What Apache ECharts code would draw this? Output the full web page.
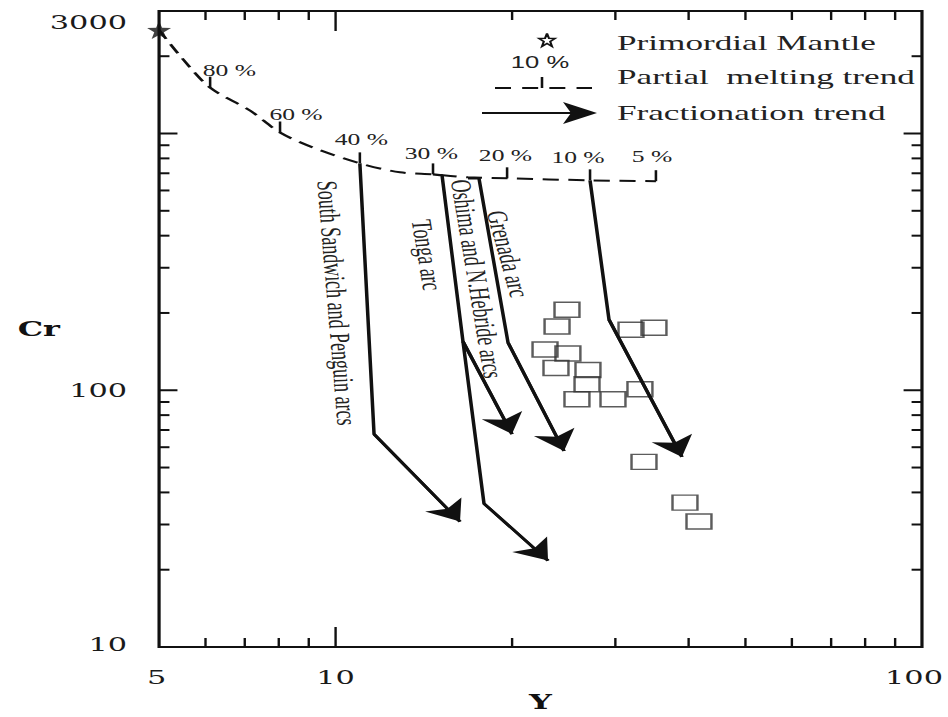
<!DOCTYPE html>
<html>
<head>
<meta charset="utf-8">
<script src="https://cdn.jsdelivr.net/npm/echarts@6/dist/echarts.min.js"></script>
<style>
  html, body { margin: 0; padding: 0; background: #fff; overflow: hidden; }
  /* the original figure is stretched horizontally, so draw narrow and stretch */
  #main { width: 593px; height: 717px; transform: scaleX(1.5987); transform-origin: 0 0; }
</style>
</head>
<body>
<div id="main"></div>
<script>
// axes (both log10)
const xRange = [5, 100];
const yRange = [10, 3000];
const xLabels = [5, 10, 100];
const yLabels = [10, 100, 3000];
const xTicksMajor = [10];
const xTicksMinor = [6, 7, 8, 9, 20, 30, 40, 50, 60, 70, 80, 90];
const yTicksMajor = [100, 1000];
const yTicksMinor = [20, 30, 40, 50, 60, 70, 80, 90, 200, 300, 400, 500, 600, 700, 800, 900, 2000];

// primordial mantle
const mantleY = [5];
const mantleCr = [2530];

// partial melting trend (dashed)
const meltY = [5, 5.43, 6.11, 7.15, 8.04, 9.15, 11.0, 12.88, 14.66, 16.82, 19.61, 27.16, 35.18];
const meltCr = [2530, 2006, 1508, 1228, 1009, 882, 765, 706, 693, 675, 669, 657, 652];
const meltTickNames = ['80 %', '60 %', '40 %', '30 %', '20 %', '10 %', '5 %'];
const meltTickY = [6.11, 8.04, 11.0, 14.66, 19.61, 27.16, 35.18];
const meltTickCr = [1508, 1009, 765, 693, 669, 657, 652];

// fractionation trends
const sspY = [11.0, 11.63, 16.30];
const sspCr = [765, 67.5, 30.8];
const tongaY = [14.66, 15.19, 16.49, 17.91, 23.03];
const tongaCr = [693, 687, 155, 36.2, 21.7];
const oshimaY = [16.49, 19.99];
const oshimaCr = [155, 67.5];
const grenadaY = [16.82, 17.56, 19.68, 24.52];
const grenadaCr = [669, 669, 153.5, 58];
const trend10Y = [27.16, 29.26, 38.96];
const trend10Cr = [657, 188.4, 55];

// samples
const sampleY = [24.81, 23.86, 22.76, 24.90, 23.76, 26.94, 26.84, 25.80, 29.72, 33.04, 31.90, 34.91, 33.57, 39.43, 41.66];
const sampleCr = [206, 177, 144, 139, 122, 120, 105.5, 92.3, 92.3, 101, 172, 175, 52.6, 36.5, 30.8];

// label nudges (px, unstretched)
const meltTickShift = [[12, -17], [10, -18], [1, -24], [-1, -21], [-1, -23], [-7.5, -23], [-2.5, -24]];
const xLabelNudge = [-1.5, 0, -5];
const yLabelNudge = [-3, 0, 11];

const S = 1.5987; // horizontal stretch
const ink = '#111';
const serif = 'Liberation Serif';
const starPts = [[50, 0], [61.76, 33.82], [97.55, 34.55], [69.02, 56.18], [79.39, 90.45], [50, 70], [20.61, 90.45], [30.98, 56.18], [2.45, 34.55], [38.24, 33.82]];
const starPath = 'path://M' + starPts.map(p => p.join(' ')).join(' L') + ' Z';

function pairs(xs, ys) {
  return xs.map((x, i) => [x, ys[i]]);
}

const trendPaths = [
  pairs(sspY, sspCr),
  pairs(tongaY, tongaCr),
  pairs(oshimaY, oshimaCr),
  pairs(grenadaY, grenadaCr),
  pairs(trend10Y, trend10Cr)
];

let myChart = echarts.init(document.getElementById('main'), null, { renderer: 'svg' });

let series = [];

// trend shafts
trendPaths.forEach(p => {
  series.push({
    type: 'line',
    data: p,
    symbol: 'none',
    lineStyle: { color: ink, width: 2.2 },
    z: 3,
    silent: true
  });
});

// arrow heads on last segment
series.push({
  type: 'lines',
  coordinateSystem: 'cartesian2d',
  data: trendPaths.map(p => ({ coords: p.slice(-2) })),
  symbol: ['none', 'arrow'],
  symbolSize: 20,
  lineStyle: { color: ink, width: 2.2, opacity: 1 },
  z: 4,
  silent: true
});

// melting curve
series.push({
  type: 'line',
  data: pairs(meltY, meltCr),
  symbol: 'none',
  smooth: 0.3,
  lineStyle: { color: ink, width: 2, type: [10, 6] },
  z: 3,
  silent: true
});

// % marks on the melting curve
series.push({
  type: 'custom',
  data: pairs(meltTickY, meltTickCr),
  z: 5,
  silent: true,
  renderItem: function (params, api) {
    const p = api.coord([api.value(0), api.value(1)]);
    const sh = meltTickShift[params.dataIndex];
    return {
      type: 'group',
      children: [
        { type: 'line', shape: { x1: p[0], y1: p[1], x2: p[0], y2: p[1] - 11 }, style: { stroke: ink, lineWidth: 1.6 } },
        { type: 'text', x: p[0] + sh[0], y: p[1] + sh[1],
          style: { text: meltTickNames[params.dataIndex], fill: '#222', fontSize: 16, fontFamily: serif, align: 'center', verticalAlign: 'middle' } }
      ]
    };
  }
});

// samples
series.push({
  type: 'scatter',
  data: pairs(sampleY, sampleCr),
  symbol: 'rect',
  symbolSize: [15.6, 15],
  itemStyle: { color: 'rgba(0,0,0,0)', borderColor: '#333', borderWidth: 1.5 },
  z: 2,
  clip: false,
  silent: true
});

// primordial mantle star
series.push({
  type: 'scatter',
  data: pairs(mantleY, mantleCr),
  symbol: starPath,
  symbolSize: [15, 18],
  itemStyle: { color: ink },
  z: 6,
  clip: false,
  silent: true
});

// axis ticks, inward on all four sides
series.push({
  type: 'custom',
  data: xTicksMajor.map(v => [v, yRange[0], 20]).concat(xTicksMinor.map(v => [v, yRange[0], 9])),
  z: 5,
  silent: true,
  renderItem: function (params, api) {
    const v = api.value(0), len = api.value(2);
    const b = api.coord([v, yRange[0]]);
    const t = api.coord([v, yRange[1]]);
    return {
      type: 'group',
      children: [
        { type: 'line', shape: { x1: b[0], y1: b[1], x2: b[0], y2: b[1] - len }, style: { stroke: ink, lineWidth: 1.5 } },
        { type: 'line', shape: { x1: t[0], y1: t[1], x2: t[0], y2: t[1] + len }, style: { stroke: ink, lineWidth: 1.5 } }
      ]
    };
  }
});
series.push({
  type: 'custom',
  data: yTicksMajor.map(v => [xRange[0], v, 11.5]).concat(yTicksMinor.map(v => [xRange[0], v, 6.5])),
  z: 5,
  silent: true,
  renderItem: function (params, api) {
    const v = api.value(1), len = api.value(2);
    const l = api.coord([xRange[0], v]);
    const r = api.coord([xRange[1], v]);
    return {
      type: 'group',
      children: [
        { type: 'line', shape: { x1: l[0], y1: l[1], x2: l[0] + len, y2: l[1] }, style: { stroke: ink, lineWidth: 2 } },
        { type: 'line', shape: { x1: r[0], y1: r[1], x2: r[0] - len, y2: r[1] }, style: { stroke: ink, lineWidth: 2 } }
      ]
    };
  }
});

// tick labels
series.push({
  type: 'custom',
  data: xLabels.map(v => [v, yRange[0]]),
  silent: true,
  renderItem: function (params, api) {
    const p = api.coord([api.value(0), yRange[0]]);
    return { type: 'text', x: p[0] + xLabelNudge[params.dataIndex], y: p[1] + 21,
      style: { text: String(xLabels[params.dataIndex]), fill: '#1a1a1a', fontSize: 19, fontFamily: 'DejaVu Serif', align: 'center', verticalAlign: 'top' } };
  }
});
series.push({
  type: 'custom',
  data: yLabels.map(v => [xRange[0], v]),
  silent: true,
  renderItem: function (params, api) {
    const p = api.coord([xRange[0], api.value(1)]);
    return { type: 'text', x: p[0] - 20, y: p[1] + yLabelNudge[params.dataIndex],
      style: { text: String(yLabels[params.dataIndex]), fill: '#1a1a1a', fontSize: 19, fontFamily: 'DejaVu Serif', align: 'right', verticalAlign: 'middle' } };
  }
});

function legendText(x, y, text) {
  return { type: 'text', x: x / S, y: y, style: { text: text, fill: '#222', fontSize: 22, fontFamily: serif, align: 'left', verticalAlign: 'middle' } };
}
function arcText(x, y, deg, text) {
  return { type: 'text', x: x / S, y: y, rotation: deg * Math.PI / 180,
    style: { text: text, fill: '#222', fontSize: 18, fontFamily: serif, align: 'center', verticalAlign: 'middle' } };
}
// hollow legend star, centred on (cx, cy), size w x h
function legendStar(cx, cy, w, h) {
  const pts = starPts.map(p => [cx + (p[0] / 100 - 0.5) * w, cy + (p[1] / 90.45 - 0.5) * h]);
  return { type: 'polygon', shape: { points: pts }, style: { fill: 'none', stroke: ink, lineWidth: 1.4 } };
}

var option = {
  animation: false,
  grid: {
    left: 99.5, right: 16.3, top: 11, bottom: 68,
    show: true, borderColor: ink, borderWidth: 2
  },
  xAxis: {
    type: 'log', logBase: 10, min: xRange[0], max: xRange[1],
    name: 'Y', nameLocation: 'middle', nameGap: 45,
    nameTextStyle: { fontFamily: 'DejaVu Serif', fontWeight: 'bold', fontSize: 20, color: ink },
    axisLine: { show: false }, axisTick: { show: false }, axisLabel: { show: false }, splitLine: { show: false }
  },
  yAxis: {
    type: 'log', logBase: 10, min: yRange[0], max: yRange[1],
    name: 'Cr', nameLocation: 'middle', nameRotate: 0, nameGap: 62,
    nameTextStyle: { fontFamily: 'DejaVu Serif', fontWeight: 'bold', fontSize: 20, color: ink, padding: [0, 0, 12, 0] },
    axisLine: { show: false }, axisTick: { show: false }, axisLabel: { show: false }, splitLine: { show: false }
  },
  graphic: [
    // legend
    legendStar(547 / S, 40, 10.6, 13),
    legendText(617, 43, 'Primordial Mantle'),
    { type: 'text', x: 540 / S, y: 63, style: { text: '10 %', fill: '#222', fontSize: 16, fontFamily: 'Liberation Sans', align: 'center', verticalAlign: 'middle' } },
    { type: 'line', shape: { x1: 495 / S, y1: 88, x2: 592 / S, y2: 88 }, style: { stroke: ink, lineWidth: 2, lineDash: [10, 7] } },
    { type: 'line', shape: { x1: 542 / S, y1: 88, x2: 542 / S, y2: 77 }, style: { stroke: ink, lineWidth: 1.6 } },
    legendText(617, 77, 'Partial  melting trend'),
    { type: 'line', shape: { x1: 482 / S, y1: 113, x2: 590 / S, y2: 113 }, style: { stroke: ink, lineWidth: 2 } },
    { type: 'polygon', shape: { points: [[597 / S, 113], [563 / S, 102], [571 / S, 113], [563 / S, 124]] }, style: { fill: ink } },
    legendText(617, 113, 'Fractionation trend'),
    // arc names along the trends
    arcText(337, 303, -87, 'South Sandwich and Penguin arcs'),
    arcText(427, 255, -84, 'Tonga arc'),
    arcText(477, 279, -84, 'Oshima and N.Hebride arcs'),
    arcText(508, 254, -80, 'Grenada arc')
  ],
  series: series
};

myChart.setOption(option);
</script>
</body>
</html>
